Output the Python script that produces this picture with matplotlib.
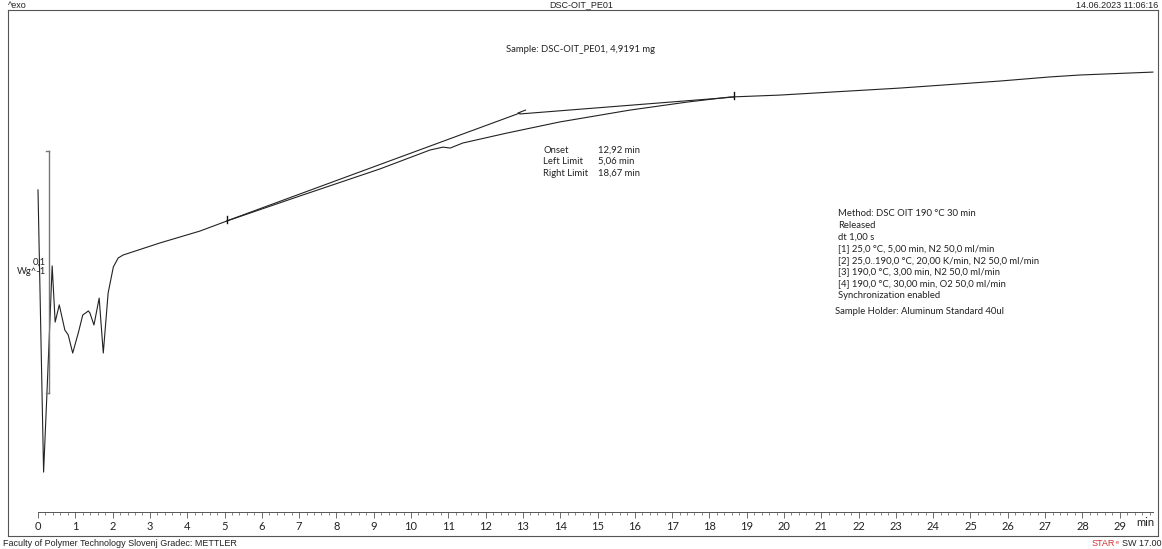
import matplotlib

matplotlib.use("Agg")
import matplotlib.pyplot as plt
import numpy as np

# DSC OIT curve, time (min) vs heat flow (W/g)
time_min = [0.00, 0.15, 0.24, 0.38, 0.46, 0.57, 0.72, 0.81, 0.93, 1.08,
            1.20, 1.35, 1.39, 1.50, 1.64, 1.75, 1.88, 2.02, 2.15, 2.28,
            3.27, 4.34, 5.07, 7.02, 9.17, 10.51, 10.86, 11.05, 11.39, 12.57,
            13.99, 15.87, 17.40, 18.55, 19.89, 23.11, 25.79, 27.13, 27.94, 29.89]
heat_flow = [0.0868, -0.0298, 0.0029, 0.0554, 0.0322, 0.0393, 0.0289, 0.0269, 0.0194, 0.0277,
             0.0351, 0.0368, 0.0360, 0.0310, 0.0421, 0.0194, 0.0442, 0.0550, 0.0587, 0.0599,
             0.0649, 0.0698, 0.0740, 0.0843, 0.0955, 0.1033, 0.1045, 0.1041, 0.1062, 0.1103,
             0.1149, 0.1198, 0.1231, 0.1252, 0.1260, 0.1289, 0.1318, 0.1335, 0.1343, 0.1355]

# onset evaluation: tangent + baseline
onset_t = [5.06, 12.92, 18.67]
onset_hf = [0.0740, 0.1186, 0.1252]

# scale bar 0.1 W/g
bar_t = 0.29
bar_hf = [0.0029, 0.1029]

ticks = list(range(0, 30))

method_lines = [
    "Method: DSC OIT 190 °C 30 min",
    "Released",
    "dt 1,00 s",
    "[1] 25,0 °C, 5,00 min, N2 50,0 ml/min",
    "[2] 25,0..190,0 °C, 20,00 K/min, N2 50,0 ml/min",
    "[3] 190,0 °C, 3,00 min, N2 50,0 ml/min",
    "[4] 190,0 °C, 30,00 min, O2 50,0 ml/min",
    "Synchronization enabled",
]

W, H = 1162, 549
fig = plt.figure(figsize=(W / 100, H / 100), dpi=100)


def fx(x):
    return x / W


def fy(y):
    return 1 - y / H


# frame from (8,10) to (1158,536) px
left, right, top, bot = 8, 1158, 10, 536
ax = fig.add_axes([fx(left), fy(bot), fx(right - left), fy(top) - fy(bot)])
px_per_min = 37.3
xmin = -(38 - left) / px_per_min
xmax = xmin + (right - left) / px_per_min
ax.set_xlim(xmin, xmax)
ax.set_ylim((400 - bot) / 2420, (400 - top) / 2420)
ax.set_xticks([])
ax.set_yticks([])
for s in ax.spines.values():
    s.set_color("#555555")
    s.set_linewidth(0.8)

ax.plot(time_min, heat_flow, color="#222222", lw=0.8)
ax.plot(onset_t[:2], onset_hf[:2], color="#222222", lw=0.8)
ax.plot(onset_t[1:], [onset_hf[1] - 0.0004, onset_hf[2]], color="#222222", lw=0.8)
# limit markers
for t, h in [(onset_t[0], onset_hf[0]), (onset_t[2], onset_hf[2])]:
    ax.plot([t, t], [h - 0.0008, h + 0.0022], color="#111111", lw=1.0)
ax.plot([onset_t[1] - 0.05, onset_t[1] + 0.15], [onset_hf[1], onset_hf[1] + 0.0012],
        color="#222222", lw=0.8)

# scale bar
ax.plot([bar_t, bar_t], bar_hf, color="#777777", lw=1.0)
for h in bar_hf:
    ax.plot([bar_t - 0.08, bar_t], [h, h], color="#777777", lw=1.0)

# time axis at y=512 px
tax = fig.add_axes([fx(left), fy(512), fx(right - left), 0])
tax.set_xlim(xmin, xmax)
for k in ["top", "left", "right"]:
    tax.spines[k].set_visible(False)
tax.spines["bottom"].set_bounds(0, 29.9)
tax.spines["bottom"].set_color("#555555")
tax.spines["bottom"].set_linewidth(0.7)
tax.set_yticks([])
tax.set_xticks(ticks)
tax.set_xticklabels([str(t) for t in ticks], fontsize=8, family="Lato", color="#222222")
tax.set_xticks(np.arange(0, 29.9, 0.2), minor=True)
tax.tick_params(axis="x", which="major", length=4, width=0.6, color="#555555", pad=2.5)
tax.tick_params(axis="x", which="minor", length=2.5, width=0.5, color="#555555")
tax.patch.set_visible(False)

fig.text(fx(1145), fy(523), "min", fontsize=8, family="Lato", ha="center", va="center",
         color="#222222")

# header / footer
hdr = dict(fontsize=6.5, family="Liberation Sans", color="#222222", va="center")
fig.text(fx(8), fy(5), "^exo", ha="left", **hdr)
fig.text(fx(581), fy(5), "DSC-OIT_PE01", ha="center", **hdr)
fig.text(fx(1158), fy(5), "14.06.2023 11:06:16", ha="right", **hdr)
fig.text(fx(3), fy(544), "Faculty of Polymer Technology Slovenj Gradec: METTLER", ha="left", **hdr)
fig.text(fx(1122), fy(544), "SW 17.00", ha="left", **hdr)
fig.text(fx(1115), fy(544), "STAR", ha="right", fontsize=6.5, family="Liberation Sans",
         color="#d03030", va="center")
fig.text(fx(1115.5), fy(542), "e", ha="left", fontsize=4, family="Liberation Sans",
         color="#d03030", va="center")

txt = dict(fontsize=6.8, family="Lato", color="#222222", va="center")
fig.text(fx(580), fy(49), "Sample: DSC-OIT_PE01, 4,9191 mg", ha="center", **txt)

for i, (lab, val) in enumerate([("Onset", "12,92 min"), ("Left Limit", "5,06 min"),
                                ("Right Limit", "18,67 min")]):
    fig.text(fx(543), fy(150 + 11.5 * i), lab, ha="left", **txt)
    fig.text(fx(598), fy(150 + 11.5 * i), val, ha="left", **txt)

for i, line in enumerate(method_lines):
    fig.text(fx(838), fy(214 + 11.6 * i), line, ha="left", **txt)
fig.text(fx(835), fy(311), "Sample Holder: Aluminum Standard 40ul", ha="left", **txt)

fig.text(fx(46), fy(262), "0,1", ha="right", **txt)
fig.text(fx(46), fy(271), "Wg^-1", ha="right", **txt)

fig.savefig("out.png", dpi=100)
